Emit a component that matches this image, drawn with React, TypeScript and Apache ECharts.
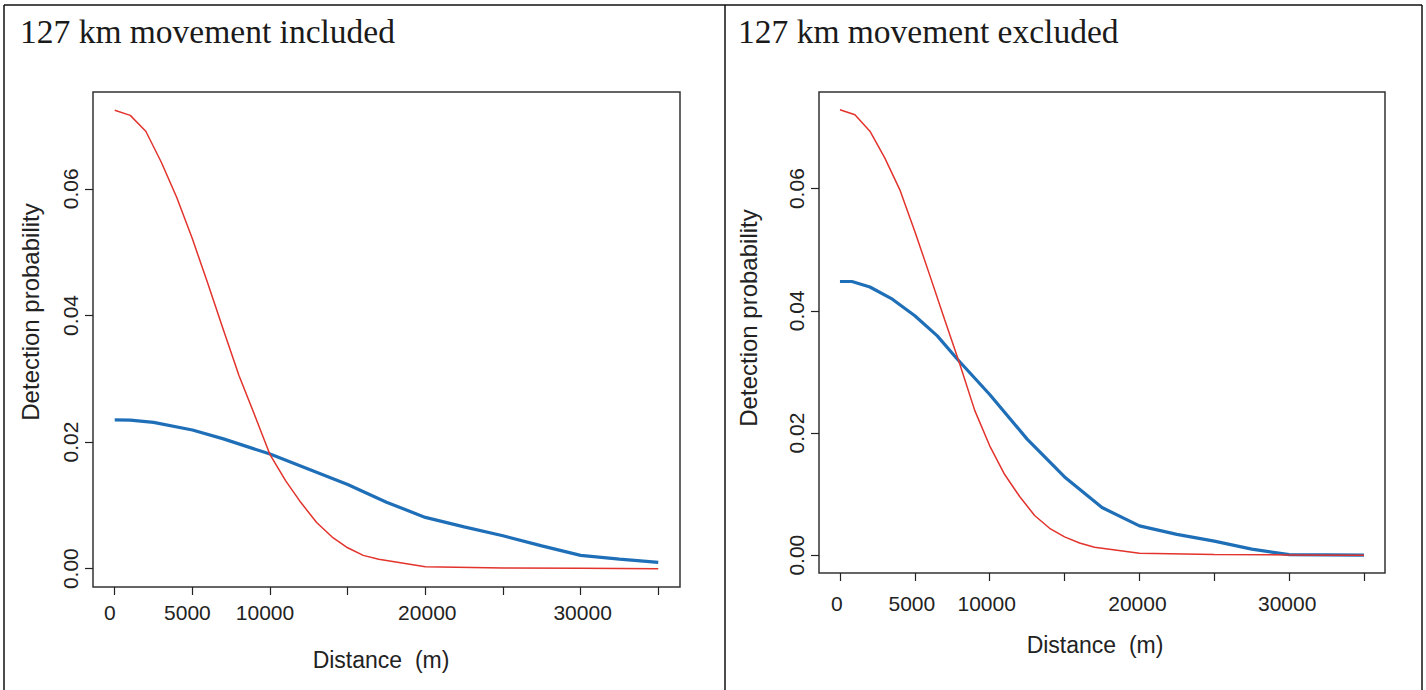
import React, { useEffect, useRef } from "react";
import * as echarts from "echarts";

// Detection probability vs distance, 127 km movement included
const inclRedDist = [0, 1000, 2000, 3000, 4000, 5000, 6000, 7000, 8000, 9000, 10000, 11000, 12000, 13000, 14000, 15000, 16000, 17000, 20000, 25000, 30000, 35000];
const inclRedProb = [0.0724, 0.0716, 0.0691, 0.0642, 0.0586, 0.0521, 0.045, 0.0377, 0.0305, 0.0243, 0.018, 0.0139, 0.0104, 0.0073, 0.005, 0.0033, 0.0021, 0.0015, 0.0003, 0.0001, 0.00005, 0];
const inclBlueDist = [0, 1000, 2500, 5000, 7000, 10000, 12500, 15000, 17500, 20000, 22500, 25000, 27500, 30000, 32500, 35000];
const inclBlueProb = [0.0235, 0.02345, 0.0231, 0.0219, 0.0205, 0.0181, 0.0157, 0.0133, 0.0105, 0.0081, 0.0066, 0.0052, 0.0036, 0.0021, 0.0015, 0.001];

// Detection probability vs distance, 127 km movement excluded
const exclRedDist = [0, 1000, 2000, 3000, 4000, 5000, 6000, 7000, 8000, 9000, 10000, 11000, 12000, 13000, 14000, 15000, 16000, 17000, 20000, 25000, 30000, 35000];
const exclRedProb = [0.0729, 0.0721, 0.0694, 0.065, 0.0598, 0.053, 0.0458, 0.0385, 0.0313, 0.0237, 0.0179, 0.0132, 0.0096, 0.0065, 0.0044, 0.003, 0.002, 0.0013, 0.0003, 0.0001, 0.00005, 0];
const exclBlueDist = [0, 800, 2000, 3500, 5000, 6500, 7800, 10000, 12500, 15000, 17500, 20000, 22500, 25000, 27500, 30000, 35000];
const exclBlueProb = [0.0448, 0.0448, 0.0439, 0.0419, 0.0392, 0.0359, 0.0322, 0.0263, 0.019, 0.0128, 0.0078, 0.0048, 0.0034, 0.0023, 0.001, 0.0001, 0];

const panelTitles = ["127 km movement included", "127 km movement excluded"];
const xTicks = [0, 5000, 10000, 15000, 20000, 25000, 30000, 35000];
const xTickLabels = [0, 5000, 10000, 20000, 30000];
const yTicks = [0, 0.02, 0.04, 0.06];
const xName = "Distance  (m)";
const yName = "Detection probability";

const RED = "#e2332c";
const BLUE = "#1f6fb8";
const INK = "#222";
const SANS = "Liberation Sans, Arial, sans-serif";

const zip = (xs: number[], ys: number[]) => xs.map((x, i) => [x, ys[i]]);

// R-style 4% padding on each side of the data range
const padRange = (lo: number, hi: number) => {
  const d = (hi - lo) * 0.04;
  return [lo - d, hi + d];
};

export default function App() {
  const ref = useRef<HTMLDivElement>(null);

  useEffect(() => {
    if (!ref.current) return;
    const chart = echarts.init(ref.current, null, { renderer: "svg" });

    const xr = padRange(0, 35000);
    const yrL = padRange(0, Math.max(...inclRedProb, ...inclBlueProb));
    const yrR = padRange(0, Math.max(...exclRedProb, ...exclBlueProb));

    const grids = [
      { left: 93, top: 92, width: 587, height: 495 },
      { left: 819, top: 92, width: 566, height: 481 },
    ];
    const xMargins = [15, 20];

    // the lower distance labels sit a little left of their ticks
    const xLabelFormatter = (v: number) => (v <= 10000 ? `{l|${v}}` : `{r|${v}}`);

    const xAxisFor = (i: number) => ({
      type: "value",
      gridIndex: i,
      min: xr[0],
      max: xr[1],
      axisLine: { show: false, onZero: false },
      splitLine: { show: false },
      axisTick: {
        show: true,
        inside: false,
        length: 8,
        customValues: xTicks,
        lineStyle: { color: INK, width: 1.2 },
      },
      axisLabel: {
        customValues: xTickLabels,
        margin: xMargins[i],
        color: INK,
        fontFamily: SANS,
        fontSize: 21,
        formatter: xLabelFormatter,
        rich: {
          l: { fontFamily: SANS, fontSize: 21, color: INK, padding: [0, i === 0 ? 10 : 6, 0, 0] },
          r: { fontFamily: SANS, fontSize: 21, color: INK, padding: [0, i === 0 ? 0 : 4, 0, i === 0 ? 4 : 0] },
        },
      },
    });

    const yAxisFor = (i: number, yr: number[]) => ({
      type: "value",
      gridIndex: i,
      min: yr[0],
      max: yr[1],
      axisLine: { show: false, onZero: false },
      splitLine: { show: false },
      axisTick: {
        show: true,
        inside: false,
        length: 8,
        customValues: yTicks,
        lineStyle: { color: INK, width: 1.2 },
      },
      axisLabel: {
        customValues: yTicks,
        rotate: 90,
        margin: 12,
        color: INK,
        fontFamily: SANS,
        fontSize: 21,
        formatter: (v: number) => v.toFixed(2),
      },
    });

    const line = (i: number, data: number[][], color: string, width: number, z: number) => ({
      type: "line",
      xAxisIndex: i,
      yAxisIndex: i,
      data,
      showSymbol: false,
      smooth: false,
      z,
      lineStyle: { color, width },
    });

    const borderStyle = { stroke: "#111", lineWidth: 1.5 };
    const titleStyle = (text: string) => ({
      text,
      fill: "#1a1a1a",
      fontFamily: "Liberation Serif, Times New Roman, serif",
      fontSize: 33.5,
      align: "left",
      verticalAlign: "middle",
    });
    const nameStyle = (text: string, size: number) => ({
      text,
      fill: INK,
      fontFamily: SANS,
      fontSize: size,
      align: "center",
      verticalAlign: "middle",
    });

    chart.setOption({
      animation: false,
      backgroundColor: "#fff",
      grid: grids.map((g) => ({
        ...g,
        show: true,
        borderColor: "#333",
        borderWidth: 1.5,
        backgroundColor: "transparent",
      })),
      xAxis: [xAxisFor(0), xAxisFor(1)],
      yAxis: [yAxisFor(0, yrL), yAxisFor(1, yrR)],
      series: [
        line(0, zip(inclRedDist, inclRedProb), RED, 1.5, 3),
        line(0, zip(inclBlueDist, inclBlueProb), BLUE, 3.2, 2),
        line(1, zip(exclRedDist, exclRedProb), RED, 1.5, 3),
        line(1, zip(exclBlueDist, exclBlueProb), BLUE, 3.2, 2),
      ],
      graphic: [
        { type: "line", shape: { x1: 4, y1: 5, x2: 1422, y2: 5 }, style: borderStyle },
        { type: "line", shape: { x1: 4, y1: 5, x2: 4, y2: 690 }, style: borderStyle },
        { type: "line", shape: { x1: 725, y1: 5, x2: 725, y2: 690 }, style: borderStyle },
        { type: "line", shape: { x1: 1422, y1: 5, x2: 1422, y2: 690 }, style: borderStyle },
        { type: "text", x: 20, y: 31, style: titleStyle(panelTitles[0]) },
        { type: "text", x: 738, y: 31, style: titleStyle(panelTitles[1]) },
        { type: "text", x: 30, y: 312, rotation: Math.PI / 2, style: nameStyle(yName, 24) },
        { type: "text", x: 748, y: 318, rotation: Math.PI / 2, style: nameStyle(yName, 24) },
        { type: "text", x: 381, y: 660, style: nameStyle(xName, 23) },
        { type: "text", x: 1095, y: 645, style: nameStyle(xName, 23) },
      ],
    });

    return () => chart.dispose();
  }, []);

  return (
    <div
      ref={ref}
      style={{ position: "fixed", left: 0, top: 0, width: 1426, height: 690, background: "#fff" }}
    />
  );
}
